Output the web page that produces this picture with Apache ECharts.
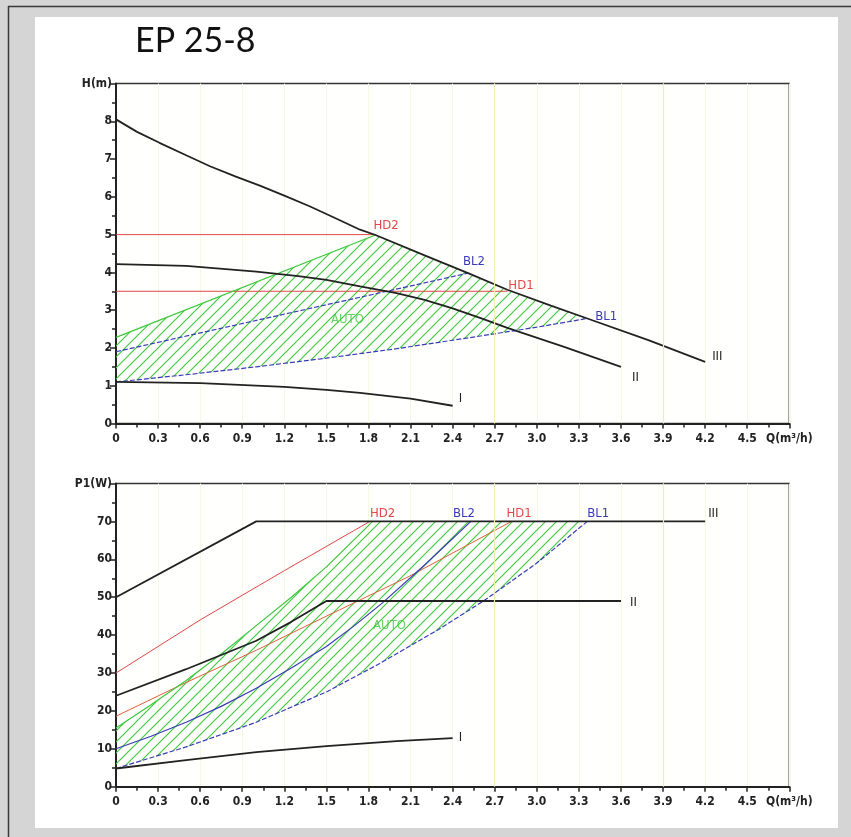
<!DOCTYPE html>
<html><head><meta charset="utf-8">
<script src="https://cdn.jsdelivr.net/npm/echarts@6/dist/echarts.min.js"></script>
<style>html,body{margin:0;padding:0;background:#d5d5d5}#c{width:851px;height:837px}</style>
</head><body><div id="c"></div>
<script>
// ---------------- data ----------------
const TITLE = 'EP 25-8';
const Q_MAX = 4.8, Q_STEP = 0.3;
const H_MAX = 9, P_MAX = 80;
const Q_NAME = 'Q(m³/h)', H_NAME = 'H(m)', P_NAME = 'P1(W)';
const strongGridQ = [2.7, 3.9];

// Head curves H(m) vs Q(m3/h)
const hIII_Q = [0, 0.15, 0.31, 0.5, 0.67, 0.85, 1.03, 1.2, 1.38, 1.55, 1.74, 1.85, 2.2, 2.51, 2.79, 3.1, 3.36, 3.8, 4.2];
const hIII_H = [8.05, 7.72, 7.43, 7.1, 6.81, 6.54, 6.29, 6.03, 5.75, 5.46, 5.13, 4.99, 4.45, 3.98, 3.54, 3.12, 2.78, 2.2, 1.63];
const hII_Q = [0, 0.5, 1.0, 1.3, 1.5, 1.74, 2.0, 2.2, 2.4, 2.6, 2.8, 3.2, 3.6];
const hII_H = [4.22, 4.17, 4.02, 3.9, 3.8, 3.63, 3.45, 3.27, 3.05, 2.79, 2.52, 2.02, 1.5];
const hI_Q = [0, 0.6, 1.2, 1.5, 1.74, 2.1, 2.4];
const hI_H = [1.1, 1.07, 0.97, 0.89, 0.81, 0.66, 0.47];
const hHD2_Q = [0, 1.85], hHD2_H = [5.0, 5.0];
const hHD1_Q = [0, 2.79], hHD1_H = [3.5, 3.5];
const hBL2_Q = [0, 2.51], hBL2_H = [1.9, 3.98];
const hBL1_Q = [0, 0.5, 1.0, 1.5, 2.0, 2.5, 3.0, 3.36];
const hBL1_H = [1.1, 1.29, 1.5, 1.73, 1.98, 2.26, 2.55, 2.78];
const hAUTO_Q = [0, 1.85], hAUTO_H = [2.28, 4.99];
const hAutoLabel = [1.65, 2.76];

// Power curves P1(W) vs Q(m3/h)
const pIII_Q = [0, 1.0, 4.2], pIII_P = [50, 70, 70];
const pII_Q = [0, 0.5, 1.0, 1.25, 1.5, 3.6], pII_P = [24, 31, 38.5, 43.5, 49, 49];
const pI_Q = [0, 0.5, 1.0, 1.5, 2.0, 2.4], pI_P = [4.8, 7, 9.1, 10.7, 12, 12.8];
const pHD2_Q = [0, 0.6, 1.2, 1.81], pHD2_P = [30, 44, 57, 70];
const pHD1_Q = [0, 0.5, 1.0, 1.5, 2.09, 2.82], pHD1_P = [18.6, 27.5, 36, 45, 55.5, 70];
const pBL2_Q = [0, 0.25, 0.5, 0.75, 1.0, 1.25, 1.5, 1.7, 1.9, 2.2, 2.53], pBL2_P = [10, 13.3, 17, 21.2, 26, 31.3, 37, 42.5, 48.5, 58.5, 70];
const pBL1_Q = [0, 0.5, 1.0, 1.5, 1.88, 2.3, 2.62, 3.0, 3.36], pBL1_P = [4.8, 10.5, 17, 25, 32.5, 41.5, 49, 59, 70];
const pAUTO_Q = [0, 0.25, 0.5, 0.75, 1.0, 1.25, 1.5, 1.83], pAUTO_P = [15.5, 21.6, 28, 35, 42.5, 50, 58, 70];
const pAutoLabel = [1.95, 42.4];

// ---------------- styles ----------------
const AX_FONT = '"DejaVu Sans Condensed","DejaVu Sans",sans-serif';
const BLACK = '#222', RED = '#e04848', BLUE = '#3a3ab8', GREEN = '#3cc83c', HD1_BOTTOM = '#e0603c';

const hatchCanvas = document.createElement('canvas');
hatchCanvas.width = 11; hatchCanvas.height = 11;
(function () {
  const g = hatchCanvas.getContext('2d');
  g.strokeStyle = '#44c844'; g.lineWidth = 1.2;
  g.beginPath();
  g.moveTo(0, 11); g.lineTo(11, 0);
  g.moveTo(-2, 2); g.lineTo(2, -2);
  g.moveTo(9, 13); g.lineTo(13, 9);
  g.stroke();
})();

const zip = (a, b) => a.map((v, i) => [v, b[i]]);

function curve(ix, Q, V, o) {
  return {
    type: 'line', xAxisIndex: ix, yAxisIndex: ix, symbol: 'none', silent: true,
    smooth: false, z: o.z || 3,
    lineStyle: { color: o.color, width: o.width || 1, type: o.dash || 'solid' },
    data: zip(Q, V),
    endLabel: o.label ? {
      show: true, formatter: o.label, distance: 0, offset: o.off,
      color: o.lc || o.color, fontSize: 13, fontFamily: AX_FONT
    } : { show: false },
    markLine: o.grid ? {
      silent: true, symbol: 'none', label: { show: false },
      lineStyle: { color: '#eeeeb4', width: 1.2, type: 'solid' },
      data: strongGridQ.map(q => ({ xAxis: q }))
    } : undefined
  };
}

function hatch(ix, pts) {
  return {
    type: 'custom', xAxisIndex: ix, yAxisIndex: ix, silent: true, z: 1,
    data: [pts[0]], encode: { x: 0, y: 1 },
    renderItem: (params, api) => ({
      type: 'polygon',
      shape: { points: pts.map(p => api.coord(p)) },
      style: { fill: { type: 'pattern', image: hatchCanvas, repeat: 'repeat' }, stroke: null }
    })
  };
}

function textMark(ix, pos, txt) {
  return {
    type: 'scatter', xAxisIndex: ix, yAxisIndex: ix, silent: true, symbolSize: 1, z: 6,
    itemStyle: { color: 'rgba(0,0,0,0)' },
    data: [pos],
    label: { show: true, position: 'inside', formatter: txt, color: GREEN, fontSize: 13, fontFamily: AX_FONT }
  };
}

// polygons for AUTO regions
const topPoly = zip(hAUTO_Q, hAUTO_H)
  .concat(zip(hIII_Q, hIII_H).filter(p => p[0] > hAUTO_Q[hAUTO_Q.length - 1] && p[0] < hBL1_Q[hBL1_Q.length - 1]))
  .concat(zip(hBL1_Q, hBL1_H).reverse());
const botPoly = zip(pAUTO_Q, pAUTO_P).concat(zip(pBL1_Q, pBL1_P).reverse());

function xAxis(ix) {
  return {
    type: 'value', gridIndex: ix, min: 0, max: Q_MAX, interval: Q_STEP,
    axisLine: { show: true, onZero: false, lineStyle: { color: BLACK, width: 2 } },
    axisTick: { show: true, length: 5, lineStyle: { color: BLACK, width: 1.5 } },
    minorTick: { show: true, splitNumber: 2, length: 4, lineStyle: { color: BLACK, width: 1.5 } },
    axisLabel: {
      show: true, margin: 9, color: '#222', fontSize: 12, fontWeight: 'bold', fontFamily: AX_FONT,
      showMaxLabel: true, showMinLabel: true,
      formatter: v => Math.abs(v - Q_MAX) < 1e-6 ? Q_NAME : (v === 0 ? '0' : v.toFixed(1))
    },
    splitLine: { show: true, lineStyle: { color: '#f7f7e2', width: 1 } }
  };
}
function yAxis(ix, max, interval, name) {
  return {
    type: 'value', gridIndex: ix, min: 0, max: max, interval: interval,
    axisLine: { show: true, onZero: false, lineStyle: { color: BLACK, width: 2 } },
    axisTick: { show: true, length: 6, lineStyle: { color: BLACK, width: 1.5 } },
    minorTick: { show: true, splitNumber: 2, length: 4, lineStyle: { color: BLACK, width: 1.5 } },
    axisLabel: {
      show: true, margin: 4, color: '#222', fontSize: 12, fontWeight: 'bold', fontFamily: AX_FONT,
      formatter: v => v === max ? name : String(v)
    },
    splitLine: { show: false }
  };
}

const option = {
  animation: false,
  backgroundColor: '#d5d5d5',
  graphic: [
    { type: 'rect', z: -10, silent: true, shape: { x: 35, y: 17, width: 803, height: 811 }, style: { fill: '#ffffff' } },
    { type: 'line', z: -10, silent: true, shape: { x1: 8, y1: 6.5, x2: 851, y2: 6.5 }, style: { stroke: '#3a3a3a', lineWidth: 1.5 } },
    { type: 'line', z: -10, silent: true, shape: { x1: 8.5, y1: 6, x2: 8.5, y2: 837 }, style: { stroke: '#3a3a3a', lineWidth: 1.5 } }
  ],
  title: {
    text: TITLE, left: 135, top: 24, padding: 0,
    textStyle: { fontFamily: 'Lato, "Open Sans", sans-serif', fontWeight: 'normal', fontSize: 34, color: '#111' }
  },
  grid: [
    { left: 116, top: 83.5, width: 673.3, height: 340, show: true, borderColor: '#333', borderWidth: 1.5, backgroundColor: '#fffffd' },
    { left: 116, top: 483.5, width: 673.3, height: 303.2, show: true, borderColor: '#333', borderWidth: 1.5, backgroundColor: '#fffffd' }
  ],
  xAxis: [xAxis(0), xAxis(1)],
  yAxis: [yAxis(0, H_MAX, 1, H_NAME), yAxis(1, P_MAX, 10, P_NAME)],
  series: [
    hatch(0, topPoly),
    hatch(1, botPoly),
    // top chart
    curve(0, hHD2_Q, hHD2_H, { color: RED, width: 1, label: 'HD2', off: [-2, -9] }),
    curve(0, hHD1_Q, hHD1_H, { color: RED, width: 1, label: 'HD1', off: [1, -6] }),
    curve(0, hAUTO_Q, hAUTO_H, { color: GREEN, width: 1.2 }),
    curve(0, hBL2_Q, hBL2_H, { color: BLUE, width: 1.2, dash: [5, 2], label: 'BL2', off: [-5, -12] }),
    curve(0, hBL1_Q, hBL1_H, { color: BLUE, width: 1.2, dash: [5, 2], label: 'BL1', off: [8, -2] }),
    curve(0, hIII_Q, hIII_H, { color: BLACK, width: 1.8, z: 4, label: 'III', off: [7, -5], lc: '#222', grid: true }),
    curve(0, hII_Q, hII_H, { color: BLACK, width: 1.8, z: 4, label: 'II', off: [11, 11], lc: '#222' }),
    curve(0, hI_Q, hI_H, { color: BLACK, width: 1.8, z: 4, label: 'I', off: [6, -7], lc: '#222' }),
    textMark(0, hAutoLabel, 'AUTO'),
    // bottom chart
    curve(1, pHD2_Q, pHD2_P, { color: RED, width: 1, label: 'HD2', off: [0, -8] }),
    curve(1, pHD1_Q, pHD1_P, { color: HD1_BOTTOM, width: 1, label: 'HD1', off: [-5, -8], lc: RED }),
    curve(1, pAUTO_Q, pAUTO_P, { color: GREEN, width: 1.2 }),
    curve(1, pBL2_Q, pBL2_P, { color: BLUE, width: 1.2, label: 'BL2', off: [-18, -8] }),
    curve(1, pBL1_Q, pBL1_P, { color: BLUE, width: 1.2, dash: [5, 2], label: 'BL1', off: [0, -8] }),
    curve(1, pIII_Q, pIII_P, { color: BLACK, width: 1.8, z: 4, label: 'III', off: [3, -8], lc: '#222', grid: true }),
    curve(1, pII_Q, pII_P, { color: BLACK, width: 1.8, z: 4, label: 'II', off: [9, 2], lc: '#222' }),
    curve(1, pI_Q, pI_P, { color: BLACK, width: 1.8, z: 4, label: 'I', off: [6, -1], lc: '#222' }),
    textMark(1, pAutoLabel, 'AUTO')
  ]
};

const chart = echarts.init(document.getElementById('c'));
chart.setOption(option);
</script>
</body></html>
